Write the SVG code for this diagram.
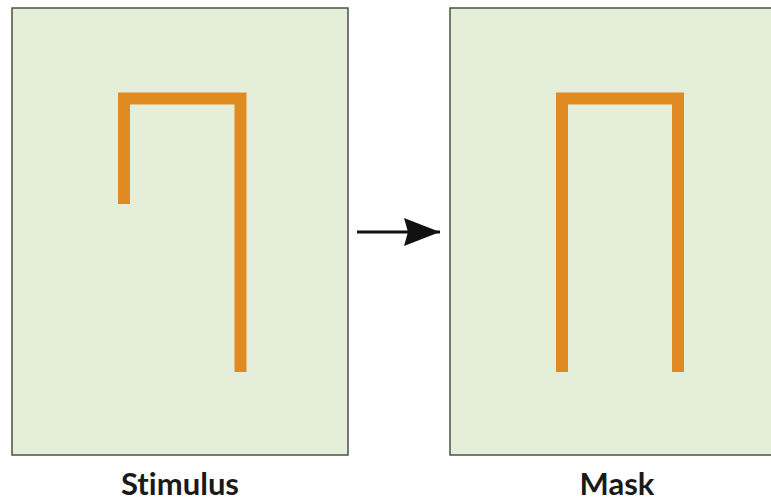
<svg xmlns="http://www.w3.org/2000/svg" width="771" height="502" viewBox="0 0 771 502">
  <style>
    .panel { fill: #e4eed8; stroke: #4b5244; stroke-width: 1.5; }
    .bar { fill: none; stroke: #e08b22; stroke-width: 12; stroke-linejoin: miter; stroke-linecap: butt; }
    .label { font-family: "Lato", "Liberation Sans", sans-serif; font-weight: 700; font-size: 31px; fill: #1a1a1a; text-anchor: middle; font-variant-ligatures: none; font-feature-settings: "liga" 0; }
    .conn { stroke: #111; stroke-width: 3; fill: none; }
  </style>
  <defs>
    <marker id="arrowhead" markerUnits="userSpaceOnUse" markerWidth="38" markerHeight="30" refX="36" refY="14" orient="auto">
      <path d="M0,0 L36,14 L0,28 L4,14 Z" fill="#111"/>
    </marker>
  </defs>

  <g id="stimulus">
    <rect class="panel" x="12" y="8" width="336" height="447"/>
    <path class="bar" d="M124,204 V98.5 H240.5 V372"/>
    <text class="label" x="180" y="495">Stimulus</text>
  </g>

  <g id="mask">
    <rect class="panel" x="450" y="8" width="330" height="447"/>
    <path class="bar" d="M562,372 V98.5 H678 V372"/>
    <text class="label" x="617" y="495">Mask</text>
  </g>

  <g id="connectors">
    <line class="conn" x1="357" y1="232" x2="440" y2="232" marker-end="url(#arrowhead)"/>
  </g>
</svg>
